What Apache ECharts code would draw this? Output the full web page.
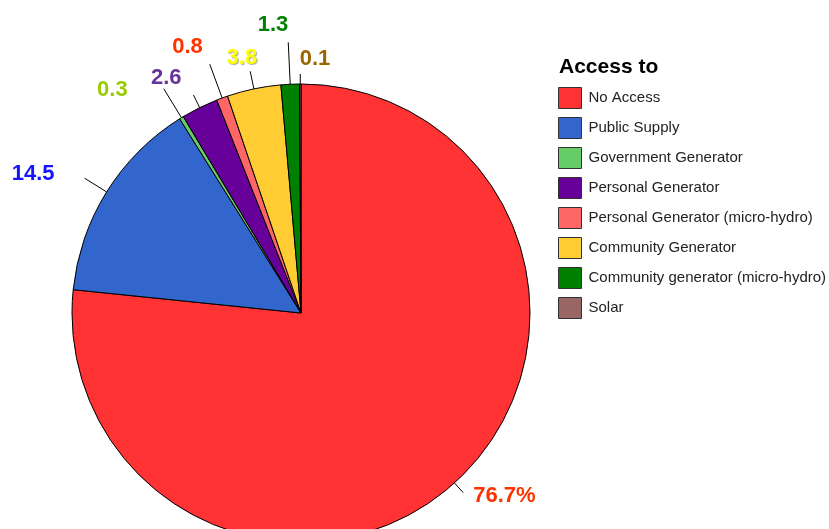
<!DOCTYPE html>
<html>
<head>
<meta charset="utf-8">
<script src="https://cdn.jsdelivr.net/npm/echarts@6/dist/echarts.min.js"></script>
<style>
html,body{margin:0;padding:0;background:#fff;}
#chart{width:829px;height:529px;}
</style>
</head>
<body>
<div id="chart"></div>
<script>
const categories = ['No Access','Public Supply','Government Generator','Personal Generator','Personal Generator (micro-hydro)','Community Generator','Community generator (micro-hydro)','Solar'];
const values = [76.7, 14.5, 0.3, 2.6, 0.8, 3.8, 1.3, 0.1];
const sliceColors = ['#FF3333','#3366CC','#66CC66','#660099','#FF6666','#FFCC33','#008000','#996666'];
const labelColors = ['#FF3300','#1414FF','#99CC00','#663399','#FF3300','#FFFF00','#008000','#996600'];

// label placement tweaks (line length, distance to line, vertical offset)
const lineLen = [13, 26, 34, 14, 36, 18, 42, 10];
const labelDist = [10, 30, 36, 12, 7, -7, 0, -30];
const labelVOff = [3, -4, 1, -17, -17, -13, -17, -15];

const font = '"Liberation Sans", Arial, sans-serif';
const data = categories.map((name, i) => ({
  name: name,
  value: values[i],
  itemStyle: { color: sliceColors[i] },
  label: {
    distanceToLabelLine: labelDist[i],
    rich: {
      t: {
        color: labelColors[i],
        fontFamily: font, fontSize: 22, fontWeight: 'bold', lineHeight: 24,
        textShadowColor: i === 5 ? 'rgba(0,0,0,0.35)' : 'transparent',
        textShadowBlur: i === 5 ? 1 : 0,
        textShadowOffsetX: i === 5 ? 1 : 0,
        textShadowOffsetY: i === 5 ? 1 : 0
      },
      s: { fontSize: 2, lineHeight: Math.max(1, Math.abs(labelVOff[i]) * 2) }
    }
  },
  labelLine: { length: lineLen[i], length2: 0 }
}));

const chart = echarts.init(document.getElementById('chart'), null, {renderer: 'canvas'});
chart.setOption({
  animation: false,
  backgroundColor: '#ffffff',
  title: {
    text: 'Access to',
    left: 559,
    top: 57,
    textStyle: { fontFamily: font, fontSize: 21, fontWeight: 'bold', color: '#000' },
    padding: 0
  },
  legend: {
    orient: 'vertical',
    left: 558,
    top: 87,
    padding: 0,
    icon: 'rect',
    itemWidth: 23,
    itemHeight: 21,
    itemGap: 8,
    data: categories,
    itemStyle: { borderColor: '#333', borderWidth: 1 },
    textStyle: { fontFamily: font, fontSize: 15, color: '#222', padding: [0,0,0,2] },
    selectedMode: false
  },
  series: [{
    type: 'pie',
    center: [301, 313],
    radius: 229,
    startAngle: 90,
    clockwise: true,
    avoidLabelOverlap: false,
    labelLayout: { hideOverlap: false, moveOverlap: null },
    data: data,
    itemStyle: { borderColor: '#000', borderWidth: 1 },
    label: {
      show: true,
      position: 'outside',
      formatter: p => {
        const txt = p.dataIndex === 0 ? p.value + '%' : String(p.value);
        const v = labelVOff[p.dataIndex];
        if (v < 0) return '{t|' + txt + '}\n{s| }';
        return '{s| }\n{t|' + txt + '}';
      }
    },
    labelLine: { show: true, lineStyle: { color: '#000', width: 1 } },
    emphasis: { disabled: true }
  }]
});
</script>
</body>
</html>
